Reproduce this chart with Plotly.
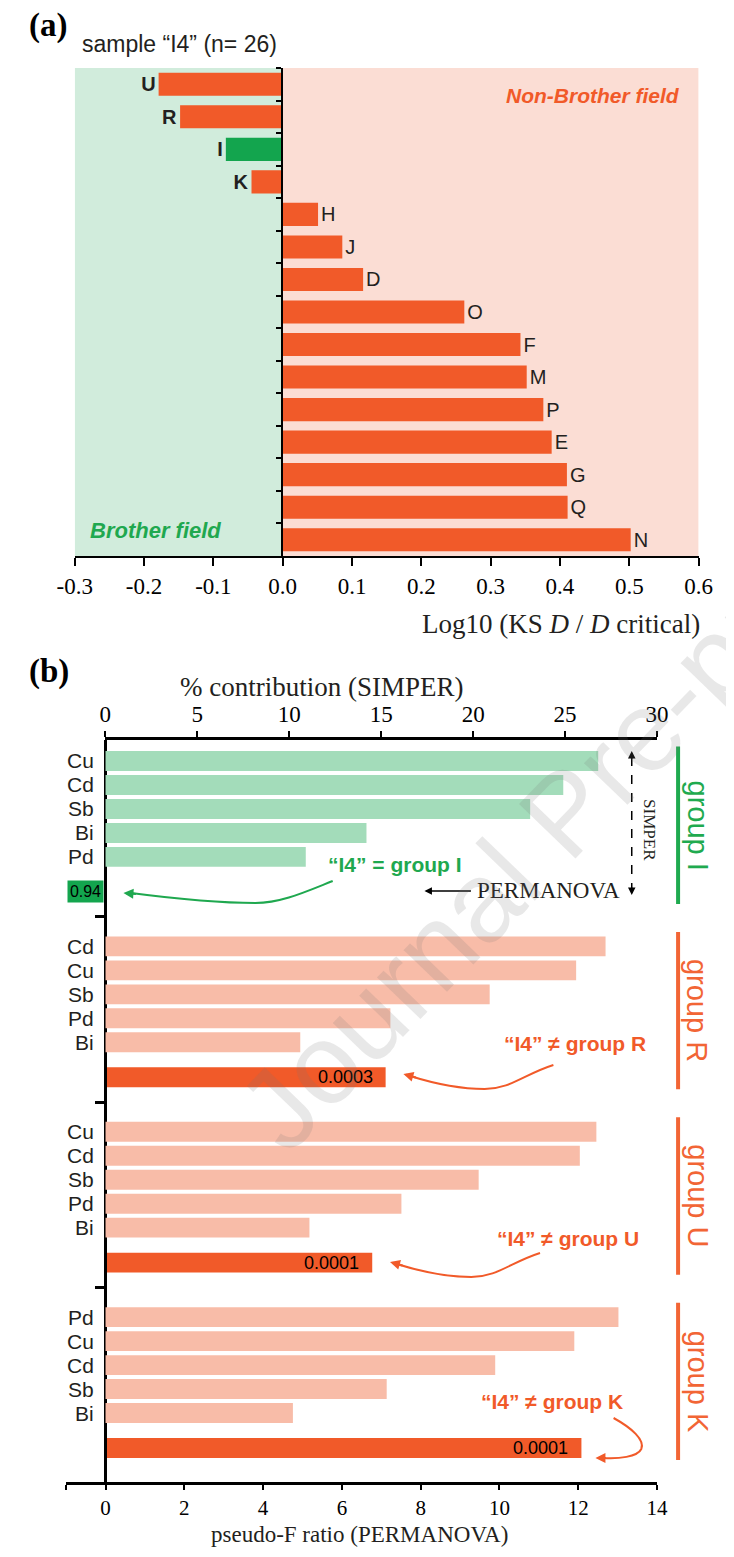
import plotly.graph_objects as go

# ---- panel (a): KS test against each group ----
samples = ["U", "R", "I", "K", "H", "J", "D", "O", "F", "M", "P", "E", "G", "Q", "N"]
log_ratio = [-0.179, -0.148, -0.082, -0.045, 0.051, 0.086, 0.116, 0.262,
             0.343, 0.352, 0.376, 0.388, 0.410, 0.411, 0.502]
brother_group = "I"

# ---- panel (b): SIMPER contributions + PERMANOVA ----
groups = ["I", "R", "U", "K"]
elements_I = ["Cu", "Cd", "Sb", "Bi", "Pd"]
elements_R = ["Cd", "Cu", "Sb", "Pd", "Bi"]
elements_U = ["Cu", "Cd", "Sb", "Pd", "Bi"]
elements_K = ["Pd", "Cu", "Cd", "Sb", "Bi"]
contrib_I = [26.8, 24.9, 23.1, 14.2, 10.9]
contrib_R = [27.2, 25.6, 20.9, 15.5, 10.6]
contrib_U = [26.7, 25.8, 20.3, 16.1, 11.1]
contrib_K = [27.9, 25.5, 21.2, 15.3, 10.2]
pseudo_f = [0.0, 7.11, 6.77, 12.08]
p_values = ["0.94", "0.0003", "0.0001", "0.0001"]

elements = [elements_I, elements_R, elements_U, elements_K]
contribs = [contrib_I, contrib_R, contrib_U, contrib_K]

ORANGE = "#F15A29"
GREEN = "#13A54E"
TXT = "#231F20"
SERIF = "Liberation Serif, Times New Roman, serif"
SANS = "Liberation Sans, Arial, sans-serif"

# page has an 8px body margin, so the figure is a bit smaller than the window
OFF = 8
FW, FH = 734 - 2 * OFF, 1557 - 2 * OFF


def px(x):
    return (x - OFF) / FW


def py(y):
    return 1 - (y - OFF) / FH


fig = go.Figure()

# panel (a) bars
fig.add_trace(go.Bar(
    x=log_ratio, y=samples, orientation="h", width=0.71,
    marker=dict(color=[GREEN if s == brother_group else ORANGE for s in samples], line_width=0),
    text=[f"<b>{s}</b>" if v < 0 else s for s, v in zip(samples, log_ratio)],
    textposition="outside", cliponaxis=False,
    textfont=dict(family=SANS, size=20, color=TXT),
    xaxis="x", yaxis="y", showlegend=False, hoverinfo="skip"))

# panel (b) row layout
STEP = 185.5 / 24
PERM_OFF = 4 + 35 / 24
SEP_OFF = PERM_OFF + 25 / 24

for g, grp in enumerate(groups):
    ypos = [g * STEP + r for r in range(len(elements[g]))]
    fig.add_trace(go.Bar(
        x=contribs[g], y=ypos, orientation="h", width=0.83,
        marker=dict(color="#A3DCBA" if grp == brother_group else "#F8BCA8", line_width=0),
        xaxis="x3", yaxis="y2", showlegend=False, hoverinfo="skip"))
    for el, yv in zip(elements[g], ypos):
        fig.add_annotation(text=el, x=px(81), y=yv, xref="paper", yref="y2",
                           xanchor="right", showarrow=False,
                           font=dict(family=SANS, size=21, color=TXT))

perm_y = [g * STEP + PERM_OFF for g in range(len(groups))]
fig.add_trace(go.Bar(
    x=pseudo_f, y=perm_y, orientation="h", width=0.83,
    marker=dict(color=[GREEN if g == brother_group else ORANGE for g in groups], line_width=0),
    xaxis="x2", yaxis="y2", showlegend=False, hoverinfo="skip"))

for g, grp in enumerate(groups):
    if grp == brother_group:
        fig.add_annotation(text=p_values[g], x=0, y=perm_y[g], xref="x2", yref="y2",
                           xanchor="right", xshift=-2, showarrow=False, bgcolor=GREEN,
                           width=35, height=21, borderpad=0,
                           font=dict(family=SANS, size=16, color="black"))
    else:
        fig.add_annotation(text=p_values[g], x=pseudo_f[g], y=perm_y[g], xref="x2", yref="y2",
                           xanchor="right", xshift=-11, showarrow=False,
                           font=dict(family=SANS, size=18, color="black"))

# group brackets on the right
for g, grp in enumerate(groups):
    col = "#1FAA4F" if grp == brother_group else "#F26535"
    y0, y1 = g * STEP - 0.6, g * STEP + PERM_OFF + 0.5
    fig.add_shape(type="line", xref="paper", yref="y2", x0=px(690.5), x1=px(690.5),
                  y0=y0, y1=y1, line=dict(color=col, width=4))
    fig.add_annotation(text="group " + grp, x=px(711), y=(y0 + y1) / 2, xref="paper", yref="y2",
                       xanchor="center", yanchor="middle", textangle=90, showarrow=False,
                       font=dict(family=SANS, size=29, color=col))

# backgrounds of panel (a)
fig.add_shape(type="rect", xref="x", yref="y domain", x0=-0.3, x1=0, y0=0, y1=1,
              fillcolor="#D1ECDC", line_width=0, layer="below")
fig.add_shape(type="rect", xref="x", yref="y domain", x0=0, x1=0.6, y0=0, y1=1,
              fillcolor="#FBDDD4", line_width=0, layer="below")


def note(text, x, y, size, color=TXT, family=SANS, xanchor="center", **kw):
    fig.add_annotation(text=text, x=px(x), y=py(y), xref="paper", yref="paper",
                       showarrow=False, xanchor=xanchor, yanchor="middle",
                       font=dict(size=size, color=color, family=family), **kw)


def curve(pts, color):
    parts = []
    for p in pts:
        parts.append(p if isinstance(p, str) else f"{px(p[0]):.5f},{py(p[1]):.5f}")
    fig.add_shape(type="path", path=" ".join(parts), xref="paper", yref="paper",
                  line=dict(color=color, width=2))


def head(x, y, ax, ay, color, width=2):
    fig.add_annotation(x=px(x), y=py(y), xref="paper", yref="paper", text="",
                       ax=ax, ay=ay, showarrow=True, arrowhead=2, arrowsize=1,
                       arrowwidth=width, arrowcolor=color, standoff=0)


note("<b>(a)</b>", 9, 25, 33, "black", SERIF, "left")
note("sample “I4” (n= 26)", 64, 44, 23, TXT, SANS, "left")
note("<b><i>Non-Brother field</i></b>", 695, 96, 21, ORANGE, SANS, "right")
note("<b><i>Brother field</i></b>", 73, 530, 22, "#1FA84F", SANS, "left")
note("Log10 (KS <i>D</i> / <i>D</i> critical)", 716, 624, 27, TXT, SERIF, "right")

note("<b>(b)</b>", 9, 671, 33, "black", SERIF, "left")
note("% contribution (SIMPER)", 318, 687, 27, TXT, SERIF)
# bottom title sits on the lower edge of the figure
fig.add_annotation(text="pseudo-F ratio (PERMANOVA)", x=px(357), y=0, xref="paper", yref="paper",
                   xanchor="center", yanchor="bottom", showarrow=False,
                   font=dict(size=23, color=TXT, family=SERIF))

# SIMPER / PERMANOVA guide
fig.add_shape(type="line", xref="paper", yref="paper", x0=px(642), x1=px(642),
              y0=py(757), y1=py(889), line=dict(color="black", width=1.5, dash="dash"))
head(642, 751, 0, 9, "black", 1.5)
head(642, 895, 0, -9, "black", 1.5)
note("SIMPER", 661, 830, 17, TXT, SERIF, textangle=90)
note("PERMANOVA", 478, 890, 23, TXT, SERIF, "left")
head(425, 891, 48, 0, "black", 1.5)

# curved arrows
note("<b>“I4” = group I</b>", 394, 865, 21, "#1FA84F", SANS)
curve(["M", (329, 881), "C", (300, 892), (275, 903), (248, 903),
       "C", (210, 903), (150, 897), (118, 893)], "#1FA84F")
head(110, 893, 14, 1, "#1FA84F")

note("<b>“I4” ≠ group R</b>", 583, 1043, 21, ORANGE, SANS)
curve(["M", (560, 1065), "C", (530, 1074), (515, 1089), (488, 1089),
       "C", (460, 1089), (430, 1082), (410, 1076)], ORANGE)
head(403, 1074, 14, 4, ORANGE)

note("<b>“I4” ≠ group U</b>", 575, 1238, 21, ORANGE, SANS)
curve(["M", (546, 1253), "C", (516, 1262), (501, 1277), (474, 1277),
       "C", (446, 1277), (416, 1270), (396, 1264)], ORANGE)
head(389, 1262, 14, 4, ORANGE)

note("<b>“I4” ≠ group K</b>", 559, 1401, 21, ORANGE, SANS)
curve(["M", (623, 1418), "C", (642, 1428), (656, 1440), (652, 1449),
       "C", (648, 1457), (628, 1459), (612, 1458)], ORANGE)
head(604, 1458, 12, 0, ORANGE)

# watermark
note("Journal Pre-proof", 572, 812, 114, "rgba(120,120,120,0.17)", SANS, textangle=-46)

axis_font = dict(family=SERIF, size=23, color="black")
fig.update_layout(
    width=FW, height=FH, autosize=False,
    margin=dict(l=0, r=0, t=0, b=0),
    paper_bgcolor="white", plot_bgcolor="rgba(0,0,0,0)",
    barmode="overlay",
    xaxis=dict(domain=[px(59), px(712)], range=[-0.3, 0.6], anchor="y",
               tickvals=[-0.3, -0.2, -0.1, 0, 0.1, 0.2, 0.3, 0.4, 0.5, 0.6],
               ticktext=["-0.3", "-0.2", "-0.1", "0.0", "0.1", "0.2", "0.3", "0.4", "0.5", "0.6"],
               showline=True, linecolor="black", linewidth=2, ticks="outside",
               ticklen=8, tickwidth=2, tickcolor="black", tickfont=axis_font,
               showgrid=False, zeroline=False),
    yaxis=dict(domain=[py(556), py(68)], type="category", autorange="reversed",
               anchor="free", position=px(276), showline=True, linecolor="black",
               linewidth=2, ticks="outside", tickson="boundaries", ticklen=5,
               tickwidth=1.5, tickcolor="black", showticklabels=False,
               showgrid=False, zeroline=False),
    xaxis2=dict(domain=[px(50), px(668.5)], range=[-1, 14], anchor="y2",
                tickvals=[-1, 0, 2, 4, 6, 8, 10, 12, 14],
                ticktext=["", "0", "2", "4", "6", "8", "10", "12", "14"],
                showline=True, linecolor="black", linewidth=2.5, ticks="outside",
                ticklen=5, tickwidth=2, tickcolor="black",
                tickfont=dict(family=SERIF, size=21, color="black"),
                showgrid=False, zeroline=False),
    xaxis3=dict(domain=[px(91), px(668.5)], range=[0, 30], anchor="y2", side="top",
                tickvals=[0, 5, 10, 15, 20, 25, 30],
                showline=True, linecolor="black", linewidth=2.5, ticks="outside",
                ticklen=6, tickwidth=2, tickcolor="black", tickfont=axis_font,
                showgrid=False, zeroline=False),
    yaxis2=dict(domain=[py(1482), py(740)], range=[3 * STEP + PERM_OFF + 34 / 24, -21 / 24],
                anchor="free", position=px(91), showline=True, linecolor="black",
                linewidth=2.5, ticks="outside", ticklen=10, tickwidth=3, tickcolor="black",
                tickvals=[g * STEP + SEP_OFF for g in range(3)], showticklabels=False,
                showgrid=False, zeroline=False),
)

fig.write_html("out.html")
